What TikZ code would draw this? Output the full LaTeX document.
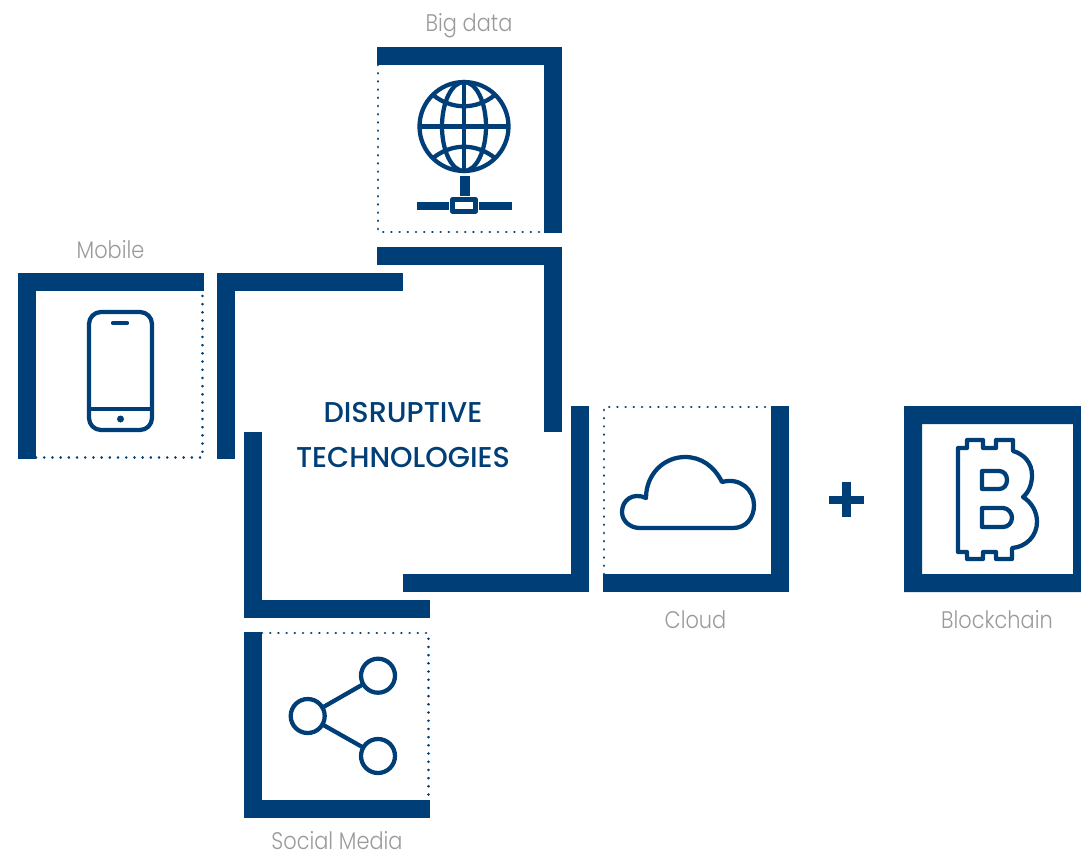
\documentclass[tikz,border=0pt]{standalone}
\usepackage{fontspec}
\setmainfont{Poppins}[UprightFont=* Light, FakeStretch=0.87]
\newfontfamily\titlefont{Poppins}[UprightFont=* Medium]
\definecolor{darkblue}{HTML}{003E77}
\definecolor{labelgray}{HTML}{9A9A9A}
\begin{document}
\begin{tikzpicture}
[
    x=0.75pt, y=-0.75pt,
    bar/.style={draw=darkblue, line width=13.5pt, line cap=butt, line join=miter},
    dotline/.style={draw=darkblue, line width=2pt, line cap=round, dash pattern=on 0.05pt off 6.1pt},
    icon/.style={draw=darkblue, line width=3.2pt, line join=round},
    solid/.style={fill=darkblue},
    caption/.style={text=labelgray, font=\fontsize{18}{20}\selectfont, inner sep=0pt},
    title/.style={text=darkblue, font=\titlefont\fontsize{21.5}{34}\selectfont, align=center, inner sep=0pt},
]
\useasboundingbox (0,0) rectangle (1081,857);

% big data
\draw[dotline] (378,65) -- (378,232) -- (544,232);
\draw[bar] (377,56) -- (553,56) -- (553,233);
\draw[icon] (464,126.5) circle (44.5);
\draw[icon] (464,126.5) ellipse (22 and 44.5);
\draw[icon] (464,82) -- (464,171);
\draw[icon] (419.5,126.5) -- (508.5,126.5);
\draw[icon] (433,95) .. controls (452,110) and (476,110) .. (495,95);
\draw[icon] (433,158) .. controls (452,143) and (476,143) .. (495,158);
\fill[solid] (459.5,176) rectangle (469.5,196);
\fill[solid] (417,202) rectangle (449,210);
\fill[solid] (479,202) rectangle (512,210);
\draw[icon] (452.5,199.5) rectangle (475.5,211.5);
\node[caption] (bigdata) at (469,26) {Big data};

% mobile
\draw[dotline] (36,457.5) -- (202.5,457.5) -- (202.5,291);
\draw[bar] (27,459) -- (27,282) -- (204,282);
\draw[icon] (89,324) arc (180:270:12) -- (140,312) arc (270:360:12) -- (152,418) arc (0:90:12) -- (101,430) arc (90:180:12) -- cycle;
\draw[icon, line cap=round] (113,323) -- (127,323);
\draw[icon] (89,409) -- (152,409);
\fill[solid] (120.5,419) circle (3.5);
\node[caption] (mobile) at (110.5,250) {Mobile};

% center
\draw[bar] (226,459) -- (226,282) -- (403,282);
\draw[bar] (377,256) -- (553,256) -- (553,432);
\draw[bar] (253,432) -- (253,609) -- (430,609);
\draw[bar] (403,583) -- (580,583) -- (580,406);
\node[title] (center) at (403,435) {DISRUPTIVE\\TECHNOLOGIES};

% cloud
\draw[dotline] (604,574) -- (604,407) -- (771,407);
\draw[bar] (603,583) -- (780,583) -- (780,406);
\draw[icon] (640,528) -- (733,528)
    .. controls (746,528) and (754,518) .. (754,505)
    .. controls (754,490) and (740,477) .. (722,482)
    .. controls (714,466) and (701,457) .. (685,457)
    .. controls (664,457) and (646,474) .. (646,498)
    .. controls (633,492) and (622,500) .. (622,512)
    .. controls (622,521) and (630,528) .. (640,528) -- cycle;
\node[caption] (cloud) at (695.5,620) {Cloud};

% plus
\fill[solid] (829,496) rectangle (864,504);
\fill[solid] (842,482) rectangle (851,517);

% blockchain
\fill[solid, even odd rule] (904,406) rectangle (1081,592) (922,424) rectangle (1073,574);
\draw[icon] (958,448) -- (967,448) -- (967,440) -- (983,440) -- (983,448) -- (996,448) -- (996,440) -- (1013,440) -- (1013,451)
    .. controls (1024,454) and (1032,463) .. (1032,475)
    .. controls (1032,484) and (1029,492) .. (1023,497)
    .. controls (1031,502) and (1037,511) .. (1037,522)
    .. controls (1037,536) and (1026,547) .. (1012,548)
    -- (1012,559) -- (996,559) -- (996,552) -- (983,552) -- (983,559) -- (967,559) -- (967,552) -- (958,552) -- cycle;
\draw[icon] (982,471) -- (999,471) .. controls (1004,471) and (1007,475) .. (1007,480) .. controls (1007,485) and (1004,489) .. (999,489) -- (982,489) -- cycle;
\draw[icon] (982,508) -- (1003,508) .. controls (1008,508) and (1012,513) .. (1012,517.5) .. controls (1012,523) and (1008,527) .. (1003,527) -- (982,527) -- cycle;
\node[caption] (blockchain) at (997,620) {Blockchain};

% social media
\draw[dotline] (262,633) -- (428.5,633) -- (428.5,800);
\draw[bar] (253,632) -- (253,809) -- (430,809);
\draw[icon] (307.7,716) circle (17);
\draw[icon] (378,675.7) circle (17);
\draw[icon] (378,756) circle (17);
\draw[icon] (322.5,707.5) -- (363.2,684.2);
\draw[icon] (322.5,724.5) -- (363.2,747.5);
\node[caption] (social) at (337,841) {Social Media};
\end{tikzpicture}
\end{document}
